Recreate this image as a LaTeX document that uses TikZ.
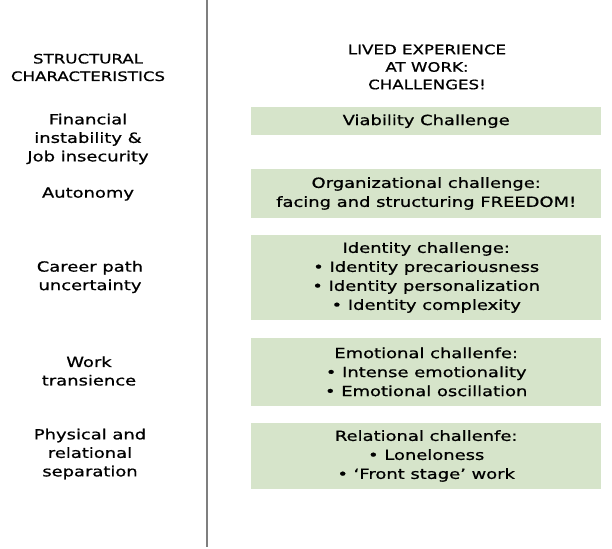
\documentclass[tikz,border=0pt]{standalone}
\usepackage{fontspec}
\setmainfont{DejaVu Sans}[FakeStretch=1.28, FakeBold=0.8]
\definecolor{boxgreen}{HTML}{D6E4CA}
\definecolor{linegray}{HTML}{7F7F7F}
\tikzset{
  chbox/.style={fill=boxgreen, draw=none, minimum width=349.7pt, inner sep=0pt,
    align=center, font=\fontsize{14}{19}\selectfont},
  lefttxt/.style={align=center, inner sep=0pt, font=\fontsize{14}{18.5}\selectfont},
  hdrtxt/.style={align=center, inner sep=0pt, font=\fontsize{13}{17.5}\selectfont},
  divider/.style={draw=linegray, line width=1.5pt},
}
\begin{document}
\begin{tikzpicture}[x=1pt,y=-1pt]
\useasboundingbox (0,0) rectangle (612,548);
% divider
\coordinate (divtop) at (207,0);
\coordinate (divbot) at (207,547);
\draw[divider] (divtop) -- (divbot);
% headers
\node[hdrtxt] (hdrL) at (88,67.5) {STRUCTURAL\\CHARACTERISTICS};
\node[hdrtxt] (hdrR) at (427,67) {LIVED EXPERIENCE\\AT WORK:\\CHALLENGES!};
% left column
\node[lefttxt] (fin) at (88,139) {Financial\\instability \&\\Job insecurity};
\node[lefttxt] (aut) at (88,194) {Autonomy};
\node[lefttxt] (car) at (90,277) {Career path\\uncertainty};
\node[lefttxt] (wrk) at (89,371) {Work\\transience};
\node[lefttxt] (phy) at (90,454) {Physical and\\relational\\separation};
% right column
\node[chbox, minimum height=27.7pt] (via) at (426.2,121.2) {Viability Challenge};
\node[chbox, minimum height=48.4pt] (org) at (426.2,193.5) {Organizational challenge:\\facing and structuring FREEDOM!};
\node[chbox, minimum height=85.6pt] (ide) at (426.2,277.5) {Identity challenge:\\• Identity precariousness\\• Identity personalization\\• Identity complexity};
\node[chbox, minimum height=67.7pt] (emo) at (426.2,371.9) {Emotional challenfe:\\• Intense emotionality\\• Emotional oscillation};
\node[chbox, minimum height=66.6pt] (rel) at (426.2,456) {Relational challenfe:\\• Loneloness\\• ‘Front stage’ work};
\end{tikzpicture}
\end{document}
